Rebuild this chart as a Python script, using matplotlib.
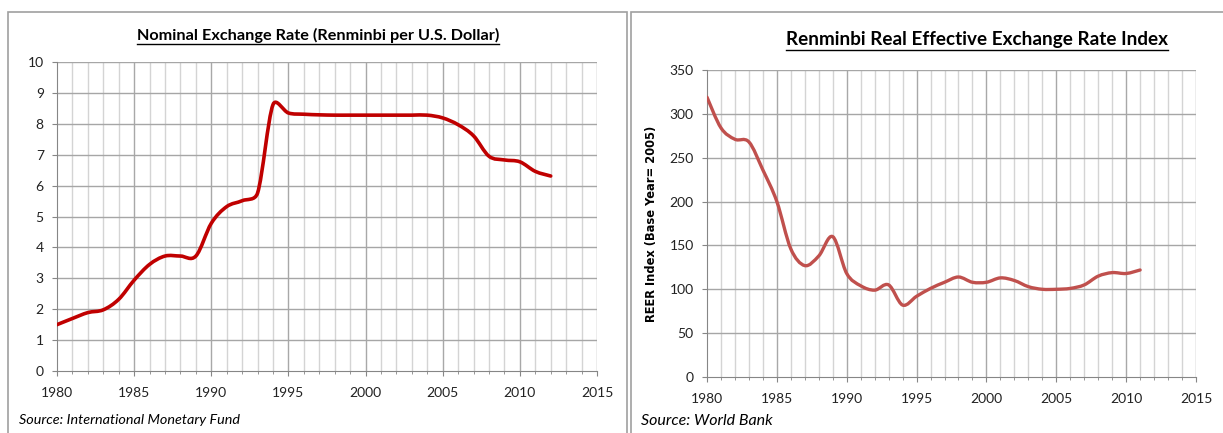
import matplotlib
matplotlib.use("Agg")
import matplotlib.pyplot as plt
from matplotlib.path import Path
from matplotlib.patches import PathPatch, Rectangle
from matplotlib.lines import Line2D
import numpy as np

plt.rcParams['font.family'] = ['Lato', 'DejaVu Sans']

# nominal exchange rate, renminbi per U.S. dollar (IMF)
nom_years = list(range(1980, 2013))
nom_rate = [1.50, 1.70, 1.89, 1.98, 2.32, 2.94, 3.45, 3.72, 3.72, 3.72,
            4.78, 5.32, 5.51, 5.76, 8.62, 8.35, 8.31, 8.29, 8.28, 8.28,
            8.28, 8.28, 8.28, 8.28, 8.28, 8.19, 7.97, 7.61, 6.95, 6.83,
            6.77, 6.46, 6.31]

# real effective exchange rate index, 2005 = 100 (World Bank)
reer_years = list(range(1980, 2012))
reer_index = [319, 284, 271, 268, 236, 200, 146, 127, 138, 160,
              118, 104, 99, 105, 82, 92, 101, 108, 114, 108,
              108, 113, 110, 103, 100, 100, 101, 105, 115, 119,
              118, 122]


def smooth_path(ax, x, y):
    # Excel style smoothed line: catmull-rom bezier segments worked out in
    # screen space, control arms capped at half the segment length
    p = ax.transData.transform(np.column_stack([x, y]))
    n = len(p)
    verts = [p[0]]
    codes = [Path.MOVETO]
    for i in range(n - 1):
        chord = np.hypot(*(p[i + 1] - p[i]))
        a = (p[i + 1] - p[max(i - 1, 0)]) / 6
        b = (p[min(i + 2, n - 1)] - p[i]) / 6
        for v in (a, b):
            ln = np.hypot(*v)
            if ln > chord / 2:
                v *= chord / 2 / ln
        verts += [p[i] + a, p[i + 1] - b, p[i + 1]]
        codes += [Path.CURVE4] * 3
    verts = ax.transData.inverted().transform(np.array(verts))
    return Path(verts, codes)


def style_axes(ax, ymax, ystep):
    ax.set_xlim(1980, 2015)
    ax.set_ylim(0, ymax)
    ax.set_xticks(range(1980, 2016, 5))
    ax.set_xticks(range(1980, 2016), minor=True)
    ax.set_yticks(np.arange(0, ymax + 1, ystep))
    for yr in range(1981, 2016):
        col = '#a8a8a8' if yr % 5 == 0 else '#d4d4d4'
        ax.axvline(yr, color=col, lw=1, zorder=0)
    for v in np.arange(ystep, ymax + 1, ystep):
        ax.axhline(v, color='#a6a6a6', lw=1, zorder=0)
    for s in ['top', 'right']:
        ax.spines[s].set_visible(False)
    for s in ['left', 'bottom']:
        ax.spines[s].set_color('#868686')
    ax.tick_params(which='both', colors='#868686', labelcolor='#222222',
                   labelsize=10, length=3.5, direction='out')
    ax.tick_params(axis='x', which='major', pad=8)
    ax.tick_params(axis='x', which='minor', length=2)
    ax.tick_params(axis='y', pad=6)


fig = plt.figure(figsize=(12.23, 4.33), dpi=100)

# panel frames
fig.add_artist(Rectangle((8 / 1223, -0.1), (627 - 8) / 1223, 1.1 - 12 / 433,
                         transform=fig.transFigure, fill=False,
                         edgecolor='#a0a0a0', lw=1.2))
fig.add_artist(Rectangle((631 / 1223, -0.1), 0.6, 1.1 - 12 / 433,
                         transform=fig.transFigure, fill=False,
                         edgecolor='#a0a0a0', lw=1.2))

ax1 = fig.add_axes([57 / 1223, 62 / 433, 540 / 1223, 309 / 433])
style_axes(ax1, 10, 1)
ax1.add_patch(PathPatch(smooth_path(ax1, nom_years, nom_rate), fill=False,
                        edgecolor='#c00000', lw=2.6, capstyle='round',
                        joinstyle='round', zorder=3))

ax2 = fig.add_axes([707 / 1223, 56 / 433, 489 / 1223, 307 / 433])
style_axes(ax2, 350, 50)
ax2.add_patch(PathPatch(smooth_path(ax2, reer_years, reer_index), fill=False,
                        edgecolor='#c0504d', lw=2.4, capstyle='round',
                        joinstyle='round', zorder=3))
ax2.set_ylabel('REER Index (Base Year= 2005)', fontsize=8.3,
               fontweight='bold', family='DejaVu Sans')
ax2.yaxis.set_label_coords(-0.1, 0.5)

t1 = fig.text(318 / 1223, 1 - 35 / 433,
              'Nominal Exchange Rate (Renminbi per U.S. Dollar)',
              ha='center', va='center', fontsize=11.7, fontweight='bold')
t2 = fig.text(977 / 1223, 1 - 40 / 433,
              'Renminbi Real Effective Exchange Rate Index',
              ha='center', va='center', fontsize=13.6, fontweight='bold')

fig.text(19 / 1223, 1 - 420 / 433, 'Source: International Monetary Fund',
         ha='left', va='center', fontsize=10.4, style='italic')
fig.text(641 / 1223, 1 - 421 / 433, 'Source: World Bank',
         ha='left', va='center', fontsize=11.5, style='italic')

# underline the titles
fig.canvas.draw()
r = fig.canvas.get_renderer()
for t in (t1, t2):
    bb = t.get_window_extent(r).transformed(fig.transFigure.inverted())
    fig.add_artist(Line2D([bb.x0, bb.x1], [bb.y0 - 1 / 433] * 2,
                          transform=fig.transFigure, color='black', lw=1))

fig.savefig('out.png', dpi=100)
